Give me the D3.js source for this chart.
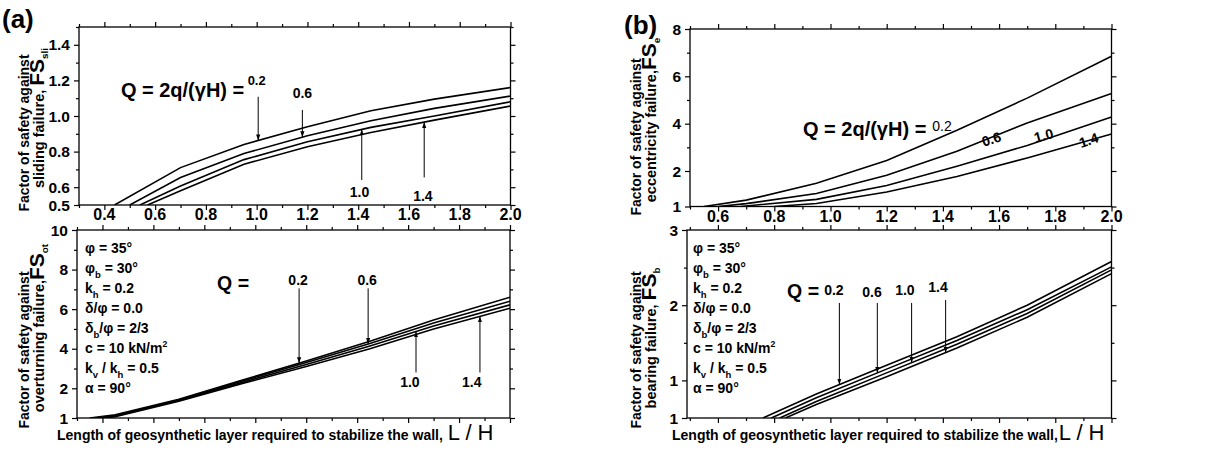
<!DOCTYPE html>
<html>
<head>
<meta charset="utf-8">
<script src="https://cdn.jsdelivr.net/npm/d3@7"></script>
<style>
  body { margin: 0; background: #fff; }
  svg { display: block; font-family: Arial, "Liberation Sans", Helvetica, sans-serif; font-weight: bold; }
</style>
</head>
<body>
<div id="wrapper"></div>
<script>
// ---- data ----
const qLabels = ["0.2", "0.6", "1.0", "1.4"];

// (a) sliding
const slidingQ02 = [[0.44,0.5],[0.70,0.71],[0.95,0.84],[1.2,0.94],[1.45,1.03],[1.7,1.095],[2.0,1.16]];
const slidingQ06 = [[0.50,0.5],[0.70,0.654],[0.95,0.789],[1.2,0.889],[1.45,0.973],[1.7,1.043],[2.0,1.112]];
const slidingQ10 = [[0.54,0.5],[0.70,0.607],[0.95,0.755],[1.2,0.855],[1.45,0.936],[1.7,1.0],[2.0,1.08]];
const slidingQ14 = [[0.57,0.5],[0.70,0.58],[0.95,0.729],[1.2,0.827],[1.45,0.907],[1.7,0.977],[2.0,1.056]];

// (a) overturning
const overturnQ02 = [[0.35,0.5],[0.45,0.66],[0.7,1.45],[0.95,2.42],[1.2,3.38],[1.45,4.38],[1.7,5.45],[2.0,6.6]];
const overturnQ06 = [[0.37,0.5],[0.45,0.63],[0.7,1.41],[0.95,2.37],[1.2,3.3],[1.45,4.27],[1.7,5.3],[2.0,6.4]];
const overturnQ10 = [[0.39,0.5],[0.45,0.6],[0.7,1.38],[0.95,2.3],[1.2,3.2],[1.45,4.14],[1.7,5.15],[2.0,6.22]];
const overturnQ14 = [[0.41,0.5],[0.45,0.57],[0.7,1.35],[0.95,2.24],[1.2,3.1],[1.45,4.0],[1.7,5.0],[2.0,6.05]];

// (b) eccentricity
const eccentQ02 = [[0.55,0.5],[0.7,0.77],[0.95,1.48],[1.2,2.44],[1.45,3.72],[1.7,5.08],[2.0,6.85]];
const eccentQ06 = [[0.6,0.5],[0.7,0.62],[0.95,1.05],[1.2,1.82],[1.45,2.83],[1.7,4.03],[2.0,5.27]];
const eccentQ10 = [[0.68,0.5],[0.95,0.8],[1.2,1.39],[1.45,2.2],[1.7,3.08],[2.0,4.28]];
const eccentQ14 = [[0.8,0.5],[0.95,0.63],[1.2,1.11],[1.45,1.77],[1.7,2.55],[2.0,3.56]];

// (b) bearing
const bearingQ02 = [[0.76,0.5],[0.95,0.82],[1.2,1.2],[1.45,1.58],[1.7,2.0],[2.0,2.58]];
const bearingQ06 = [[0.79,0.5],[0.95,0.77],[1.2,1.15],[1.45,1.53],[1.7,1.94],[2.0,2.51]];
const bearingQ10 = [[0.82,0.5],[0.95,0.72],[1.2,1.1],[1.45,1.48],[1.7,1.89],[2.0,2.47]];
const bearingQ14 = [[0.84,0.5],[0.95,0.68],[1.2,1.05],[1.45,1.43],[1.7,1.84],[2.0,2.42]];

// ticks
const xMajorA = [0.4,0.6,0.8,1.0,1.2,1.4,1.6,1.8,2.0];
const xMinorA = [0.3,0.5,0.7,0.9,1.1,1.3,1.5,1.7,1.9];
const xMajorB = [0.6,0.8,1.0,1.2,1.4,1.6,1.8,2.0];
const xMinorB = [0.5,0.7,0.9,1.1,1.3,1.5,1.7,1.9];

const slideYTicks = [0.5,0.6,0.8,1.0,1.2,1.4];
const slideYLabels = ["0.5","0.6","0.8","1.0","1.2","1.4"];
const slideYMinor = [0.7,0.9,1.1,1.3,1.5];

const overYTicks = [0.5,2,4,6,8,10];
const overYLabels = ["1","2","4","6","8","10"];
const overYMinor = [3,5,7,9];

const eccYTicks = [0.5,2,4,6,8];
const eccYLabels = ["1","2","4","6","8"];
const eccYMinor = [3,5,7];

const bearYTicks = [0.5,1,2,3];
const bearYLabels = ["1","1","2","3"];
const bearYMinor = [1.5,2.5];

// input parameters box
const paramLines = [
  [["φ = 35°"]],
  [["φ"],["b","sub"],[" = 30°"]],
  [["k"],["h","sub"],[" = 0.2"]],
  [["δ/φ = 0.0"]],
  [["δ"],["b","sub"],["/φ = 2/3"]],
  [["c = 10 kN/m"],["2","sup"]],
  [["k"],["v","sub"],[" / k"],["h","sub"],[" = 0.5"]],
  [["α = 90°"]]
];

// ---- drawing ----
const width = 1211, height = 462;
const svg = d3.select("#wrapper").append("svg")
  .attr("width", width).attr("height", height);
const defs = svg.append("defs");

defs.append("marker")
  .attr("id", "arrow")
  .attr("viewBox", "0 0 10 10")
  .attr("refX", 10).attr("refY", 5)
  .attr("markerWidth", 6).attr("markerHeight", 6)
  .attr("orient", "auto")
  .append("path").attr("d", "M0,1.5L10,5L0,8.5z").attr("fill", "#000");

// text made of pieces: plain, "sub", "sup", "big"
function rich(sel, parts, size, big, subShift) {
  let shift = 0;
  parts.forEach(p => {
    const t = sel.append("tspan").text(p[0]);
    let target = 0, fs = size;
    if (p[1] === "sub") { target = size * (subShift || 0.38); fs = size * 0.68; }
    if (p[1] === "sup") { target = -size * 0.45; fs = size * 0.62; }
    if (p[1] === "big") { fs = big || size * 1.3; }
    t.attr("font-size", fs).attr("dy", target - shift);
    shift = target;
  });
}

function interp(series, x) {
  for (let i = 1; i < series.length; i++) {
    const a = series[i - 1], b = series[i];
    if (x <= b[0]) return a[1] + (b[1] - a[1]) * (x - a[0]) / (b[0] - a[0]);
  }
  return series[series.length - 1][1];
}

function drawPanel(p) {
  const x = d3.scaleLinear().domain(p.xDomain).range([p.x0, p.x1]);
  const y = d3.scaleLinear().domain(p.yDomain).range([p.y1, p.y0]);
  const g = svg.append("g");

  // ticks on all four sides, pointing outward; minor 3px, major 5px
  const sides = [
    [() => d3.axisBottom(x), `translate(0,${p.y1})`, p.xMajor, p.xMinor],
    [() => d3.axisTop(x), `translate(0,${p.y0})`, p.xMajor, p.xMinor],
    [() => d3.axisLeft(y), `translate(${p.x0},0)`, p.yTicks, p.yMinor],
    [() => d3.axisRight(y), `translate(${p.x1},0)`, p.yTicks, p.yMinor]
  ];
  sides.forEach(([mk, tr, major, minor]) => {
    g.append("g").attr("transform", tr)
      .call(mk().tickValues(minor).tickSize(3).tickSizeOuter(0).tickFormat(""));
    g.append("g").attr("transform", tr)
      .call(mk().tickValues(major).tickSize(5).tickSizeOuter(0).tickFormat(""));
  });
  g.selectAll(".domain").remove();
  g.selectAll(".tick line").attr("stroke", "#000").attr("stroke-width", 1.2);

  // frame
  g.append("rect")
    .attr("x", p.x0).attr("y", p.y0)
    .attr("width", p.x1 - p.x0).attr("height", p.y1 - p.y0)
    .attr("fill", "none").attr("stroke", "#000").attr("stroke-width", 1.3);

  // y tick labels
  g.selectAll(".ylab").data(p.yTicks).join("text")
    .attr("x", p.x0 - 9).attr("y", d => y(d))
    .attr("dy", "0.36em").attr("text-anchor", "end")
    .attr("font-size", 15.5)
    .text((d, i) => p.yLabels[i]);

  // x tick labels
  if (p.showXLabels) {
    g.selectAll(".xlab").data(p.xMajor).join("text")
      .attr("x", d => x(d)).attr("y", p.y1 + 15)
      .attr("text-anchor", "middle").attr("font-size", 16)
      .text(d => d.toFixed(1));
  }

  // curves
  const clipId = "clip" + p.id;
  defs.append("clipPath").attr("id", clipId)
    .append("rect").attr("x", p.x0).attr("y", p.y0)
    .attr("width", p.x1 - p.x0).attr("height", p.y1 - p.y0);
  const line = d3.line().x(d => x(d[0])).y(d => y(d[1]));
  g.append("g").attr("clip-path", `url(#${clipId})`)
    .selectAll("path").data(p.series).join("path")
    .attr("d", line).attr("fill", "none")
    .attr("stroke", "#000").attr("stroke-width", 1.6);

  return { g, x, y };
}

function arrow(ctx, series, xv, yFrom) {
  const yTo = interp(series, xv);
  ctx.g.append("line")
    .attr("x1", ctx.x(xv)).attr("x2", ctx.x(xv))
    .attr("y1", ctx.y(yFrom)).attr("y2", ctx.y(yTo))
    .attr("stroke", "#000").attr("stroke-width", 1)
    .attr("marker-end", "url(#arrow)");
}

function label(ctx, xv, yv, txt, size, anchor, rot) {
  const t = ctx.g.append("text")
    .attr("text-anchor", anchor || "middle")
    .attr("font-size", size)
    .text(txt);
  if (rot) t.attr("transform", `translate(${ctx.x(xv)},${ctx.y(yv)}) rotate(${rot})`);
  else t.attr("x", ctx.x(xv)).attr("y", ctx.y(yv));
  return t;
}

function yTitle(x1, x2, yc1, yc2, line2, sub) {
  svg.append("text")
    .attr("transform", `translate(${x1},${yc1}) rotate(-90)`)
    .attr("text-anchor", "middle").attr("font-size", 14)
    .text("Factor of safety against");
  const t = svg.append("text")
    .attr("transform", `translate(${x2},${yc2}) rotate(-90)`)
    .attr("text-anchor", "middle");
  rich(t, [[line2], ["FS", "big"], [sub, "sub"]], 14.5, 21, 0.3);
}

function params(x0, y0) {
  paramLines.forEach((parts, i) => {
    const t = svg.append("text").attr("x", x0).attr("y", y0 + i * 20);
    rich(t, parts, 14);
  });
}

// axis title: main text plus a larger "L / H" as its own text element
function xTitle(x0, yb, main, gap) {
  const t = svg.append("text").attr("x", x0).attr("y", yb)
    .attr("font-size", 14).text(main);
  const w = t.node().getComputedTextLength();
  svg.append("text").attr("x", x0 + w + gap).attr("y", yb)
    .attr("font-size", 22).attr("font-weight", "normal").text("L / H");
}

// ---- panel (a) top: sliding ----
const aTop = drawPanel({
  id: "aTop", x0: 79, x1: 510.5, y0: 27, y1: 205,
  xDomain: [0.3, 2.0], yDomain: [0.5, 1.5],
  xMajor: xMajorA, xMinor: xMinorA, showXLabels: true,
  yTicks: slideYTicks, yLabels: slideYLabels, yMinor: slideYMinor,
  series: [slidingQ02, slidingQ06, slidingQ10, slidingQ14]
});
label(aTop, 0.465, 1.105, "Q = 2q/(γH) =", 20, "start");
label(aTop, 1.0, 1.175, qLabels[0], 13);
label(aTop, 1.18, 1.1, qLabels[1], 14);
label(aTop, 1.405, 0.545, qLabels[2], 14);
label(aTop, 1.655, 0.525, qLabels[3], 14);
arrow(aTop, slidingQ02, 1.006, 1.108);
arrow(aTop, slidingQ06, 1.18, 1.034);
arrow(aTop, slidingQ10, 1.414, 0.64);
arrow(aTop, slidingQ14, 1.66, 0.655);

// ---- panel (a) bottom: overturning ----
const aBot = drawPanel({
  id: "aBot", x0: 77, x1: 510, y0: 230, y1: 418,
  xDomain: [0.3, 2.0], yDomain: [0.5, 10],
  xMajor: xMajorA, xMinor: xMinorA, showXLabels: false,
  yTicks: overYTicks, yLabels: overYLabels, yMinor: overYMinor,
  series: [overturnQ02, overturnQ06, overturnQ10, overturnQ14]
});
label(aBot, 0.85, 6.95, "Q =", 19.5, "start");
label(aBot, 1.168, 7.2, qLabels[0], 14);
label(aBot, 1.439, 7.2, qLabels[1], 14);
label(aBot, 1.607, 2.05, qLabels[2], 14);
label(aBot, 1.85, 2.05, qLabels[3], 14);
arrow(aBot, overturnQ02, 1.172, 7.05);
arrow(aBot, overturnQ06, 1.443, 7.05);
arrow(aBot, overturnQ10, 1.631, 2.8);
arrow(aBot, overturnQ14, 1.882, 2.8);
params(85, 253);

// ---- panel (b) top: eccentricity ----
const bTop = drawPanel({
  id: "bTop", x0: 690, x1: 1111.5, y0: 29, y1: 206.5,
  xDomain: [0.5, 2.0], yDomain: [0.5, 8],
  xMajor: xMajorB, xMinor: xMinorB, showXLabels: true,
  yTicks: eccYTicks, yLabels: eccYLabels, yMinor: eccYMinor,
  series: [eccentQ02, eccentQ06, eccentQ10, eccentQ14]
});
label(bTop, 0.902, 3.5, "Q = 2q/(γH) =", 20, "start");
label(bTop, 1.397, 3.68, qLabels[0], 14).attr("font-weight", "normal");
label(bTop, 1.578, 3.15, qLabels[1], 14, "middle", -18);
label(bTop, 1.763, 3.3, qLabels[2], 14, "middle", -15);
label(bTop, 1.924, 3.1, qLabels[3], 14, "middle", -18);

// ---- panel (b) bottom: bearing ----
const bBot = drawPanel({
  id: "bBot", x0: 687, x1: 1111.5, y0: 230, y1: 418,
  xDomain: [0.49, 2.0], yDomain: [0.5, 3],
  xMajor: xMajorB, xMinor: xMinorB, showXLabels: false,
  yTicks: bearYTicks, yLabels: bearYLabels, yMinor: bearYMinor,
  series: [bearingQ02, bearingQ06, bearingQ10, bearingQ14]
});
label(bBot, 0.846, 2.09, "Q =", 19.5, "start");
label(bBot, 1.0125, 2.13, qLabels[0], 14);
label(bBot, 1.148, 2.11, qLabels[1], 14);
label(bBot, 1.265, 2.14, qLabels[2], 14);
label(bBot, 1.383, 2.18, qLabels[3], 14);
arrow(bBot, bearingQ02, 1.032, 2.03);
arrow(bBot, bearingQ06, 1.167, 2.03);
arrow(bBot, bearingQ10, 1.289, 2.03);
arrow(bBot, bearingQ14, 1.41, 2.07);
params(693, 253);

// ---- titles ----
yTitle(29, 44, 133, 118, "sliding failure, ", "sli");
yTitle(29, 44, 350, 328, "overturning failure,", "ot");
yTitle(641, 656, 137, 120, "eccentricity failure,", "e");
yTitle(641, 656, 350, 338, "bearing failure, ", "b");

xTitle(57, 440, "Length of geosynthetic layer required to stabilize the wall,", 5);
xTitle(672, 440, "Length of geosynthetic layer required to stabilize the wall,", 1);

svg.append("text").attr("x", 2).attr("y", 28).attr("font-size", 26).text("(a)");
svg.append("text").attr("x", 624).attr("y", 34).attr("font-size", 26).text("(b)");
</script>
</body>
</html>
